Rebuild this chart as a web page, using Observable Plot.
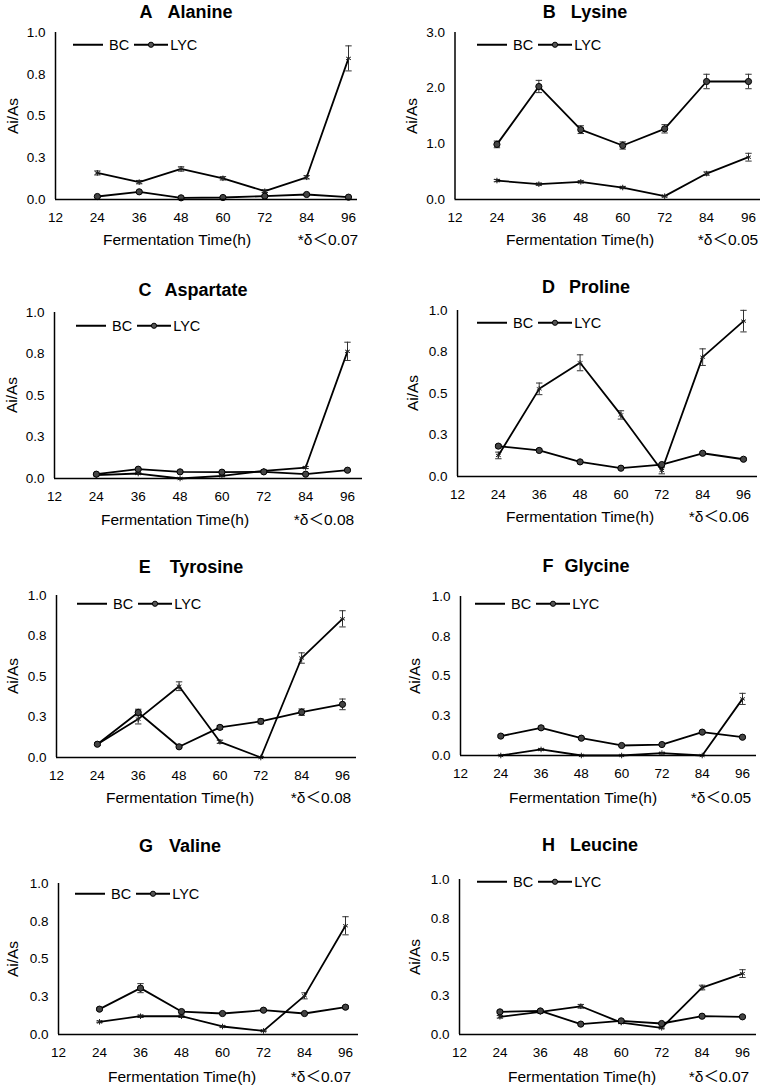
<!DOCTYPE html>
<html>
<head>
<meta charset="utf-8">
<script src="https://cdn.jsdelivr.net/npm/d3@7"></script>
<script src="https://cdn.jsdelivr.net/npm/@observablehq/plot@0.6"></script>
<style>
  body { margin: 0; background: #fff; }
  #page { position: relative; width: 765px; height: 1088px; overflow: hidden; background: #fff;
          font-family: "Liberation Sans", Arial, "Noto Sans CJK SC", sans-serif; color: #000; }
  .abs { position: absolute; white-space: nowrap; line-height: 1; }
  .title { font-weight: bold; font-size: 18px; transform: translate(-50%, -50%); }
  .ylab { font-size: 15.5px; transform: translate(-50%, -50%) rotate(-90deg); }
  .xlab { font-size: 15.5px; transform: translate(-50%, -50%); }
  .note { font-size: 15.5px; transform: translate(-50%, -50%); }
  .legend { font-size: 14.5px; display: flex; align-items: center; transform: translateY(-50%); }
  .legend svg { display: block; }
</style>
</head>
<body>
<div id="page"></div>
<script>
// ---------- data ----------
const hours = [24, 36, 48, 60, 72, 84, 96];
const xTicks = [12, 24, 36, 48, 60, 72, 84, 96];
const letters = ["A", "B", "C", "D", "E", "F", "G", "H"];
const aminoAcids = ["Alanine", "Lysine", "Aspartate", "Proline", "Tyrosine", "Glycine", "Valine", "Leucine"];
const notes = ["*δ＜0.07", "*δ＜0.05", "*δ＜0.08", "*δ＜0.06", "*δ＜0.08", "*δ＜0.05", "*δ＜0.07", "*δ＜0.07"];
const seriesNames = ["BC", "LYC"];
const xTitle = "Fermentation Time(h)";
const yTitle = "Ai/As";

const unitTicks = [0, 0.25, 0.5, 0.75, 1.0];
const unitTickLabels = ["0.0", "0.3", "0.5", "0.8", "1.0"];
const lysineTicks = [0, 1, 2, 3];
const lysineTickLabels = ["0.0", "1.0", "2.0", "3.0"];

const alanineBC     = [0.159, 0.104, 0.183, 0.127, 0.050, 0.133, 0.845];
const alanineBCErr  = [0.012, 0.010, 0.013, 0.010, 0.008, 0.010, 0.075];
const alanineLYC    = [0.018, 0.046, 0.010, 0.012, 0.020, 0.030, 0.014];
const alanineLYCErr = [0.005, 0.006, 0.004, 0.004, 0.005, 0.005, 0.004];

const lysineBC      = [0.34, 0.275, 0.317, 0.215, 0.06, 0.466, 0.76];
const lysineBCErr   = [0.02, 0.02, 0.02, 0.02, 0.015, 0.03, 0.07];
const lysineLYC     = [0.99, 2.03, 1.255, 0.97, 1.27, 2.12, 2.12];
const lysineLYCErr  = [0.06, 0.11, 0.07, 0.065, 0.075, 0.13, 0.13];

const aspartateBC     = [0.020, 0.030, 0.000, 0.016, 0.046, 0.066, 0.766];
const aspartateBCErr  = [0.004, 0.005, 0.003, 0.004, 0.005, 0.006, 0.055];
const aspartateLYC    = [0.026, 0.056, 0.040, 0.038, 0.040, 0.026, 0.050];
const aspartateLYCErr = [0.005, 0.005, 0.005, 0.005, 0.005, 0.005, 0.005];

const prolineBC     = [0.127, 0.528, 0.685, 0.371, 0.036, 0.719, 0.936];
const prolineBCErr  = [0.020, 0.035, 0.048, 0.025, 0.020, 0.050, 0.065];
const prolineLYC    = [0.183, 0.157, 0.088, 0.050, 0.072, 0.140, 0.104];
const prolineLYCErr = [0.010, 0.008, 0.006, 0.005, 0.006, 0.008, 0.007];

const tyrosineBC     = [0.082, 0.237, 0.440, 0.097, 0.000, 0.614, 0.856];
const tyrosineBCErr  = [0.008, 0.030, 0.027, 0.010, 0.005, 0.032, 0.050];
const tyrosineLYC    = [0.082, 0.278, 0.066, 0.186, 0.223, 0.280, 0.328];
const tyrosineLYCErr = [0.008, 0.020, 0.006, 0.012, 0.015, 0.020, 0.033];

const glycineBC     = [0.000, 0.038, 0.000, 0.000, 0.015, 0.000, 0.356];
const glycineBCErr  = [0.003, 0.006, 0.002, 0.002, 0.004, 0.002, 0.035];
const glycineLYC    = [0.122, 0.174, 0.109, 0.063, 0.069, 0.147, 0.115];
const glycineLYCErr = [0.008, 0.010, 0.006, 0.005, 0.005, 0.008, 0.006];

const valineBC     = [0.084, 0.121, 0.121, 0.053, 0.024, 0.256, 0.720];
const valineBCErr  = [0.006, 0.008, 0.008, 0.005, 0.005, 0.020, 0.060];
const valineLYC    = [0.168, 0.307, 0.152, 0.139, 0.161, 0.139, 0.181];
const valineLYCErr = [0.008, 0.030, 0.008, 0.007, 0.008, 0.007, 0.010];

const leucineBC     = [0.114, 0.146, 0.182, 0.077, 0.043, 0.303, 0.393];
const leucineBCErr  = [0.008, 0.008, 0.012, 0.006, 0.006, 0.015, 0.025];
const leucineLYC    = [0.146, 0.152, 0.067, 0.088, 0.071, 0.118, 0.114];
const leucineLYCErr = [0.008, 0.008, 0.005, 0.006, 0.006, 0.006, 0.006];

// ---------- layout (pixels) ----------
const layout = [
  {left: 0,   axisX: 55,    x96: 348, axisEnd: 357, top: 32,  bottom: 199,  titleX: 186, titleY: 12,  gap: 15, yLabelX: 13,  xLabelX: 177, xLabelY: 240,  noteX: 328, legendX: 73,  legendY: 45},
  {left: 380, axisX: 454.5, x96: 748, axisEnd: 760, top: 32,  bottom: 199,  titleX: 585, titleY: 12,  gap: 15, yLabelX: 412, xLabelX: 580, xLabelY: 240,  noteX: 728, legendX: 477, legendY: 45},
  {left: 0,   axisX: 54,    x96: 347, axisEnd: 362, top: 312, bottom: 478,  titleX: 193, titleY: 290, gap: 13, yLabelX: 12,  xLabelX: 175, xLabelY: 520,  noteX: 324, legendX: 76,  legendY: 326},
  {left: 380, axisX: 457,   x96: 743, axisEnd: 757, top: 310, bottom: 476,  titleX: 586, titleY: 287, gap: 14, yLabelX: 413, xLabelX: 580, xLabelY: 517,  noteX: 719, legendX: 477, legendY: 323},
  {left: 0,   axisX: 56,    x96: 342, axisEnd: 356, top: 595, bottom: 757,  titleX: 191, titleY: 567, gap: 19, yLabelX: 13,  xLabelX: 180, xLabelY: 798,  noteX: 321, legendX: 77,  legendY: 604},
  {left: 380, axisX: 460,   x96: 742, axisEnd: 756, top: 596, bottom: 755,  titleX: 586, titleY: 566, gap: 11, yLabelX: 415, xLabelX: 583, xLabelY: 798,  noteX: 721, legendX: 475, legendY: 604},
  {left: 0,   axisX: 58,    x96: 345, axisEnd: 358, top: 883, bottom: 1034, titleX: 180, titleY: 846, gap: 16, yLabelX: 13,  xLabelX: 182, xLabelY: 1077, noteX: 321, legendX: 75,  legendY: 894},
  {left: 380, axisX: 459,   x96: 742, axisEnd: 756, top: 879, bottom: 1034, titleX: 590, titleY: 845, gap: 15, yLabelX: 415, xLabelX: 582, xLabelY: 1077, noteX: 719, legendX: 477, legendY: 882}
];

const panels = [
  {bc: alanineBC,   bcErr: alanineBCErr,   lyc: alanineLYC,   lycErr: alanineLYCErr,   ticks: unitTicks,   tickLabels: unitTickLabels},
  {bc: lysineBC,    bcErr: lysineBCErr,    lyc: lysineLYC,    lycErr: lysineLYCErr,    ticks: lysineTicks, tickLabels: lysineTickLabels},
  {bc: aspartateBC, bcErr: aspartateBCErr, lyc: aspartateLYC, lycErr: aspartateLYCErr, ticks: unitTicks,   tickLabels: unitTickLabels},
  {bc: prolineBC,   bcErr: prolineBCErr,   lyc: prolineLYC,   lycErr: prolineLYCErr,   ticks: unitTicks,   tickLabels: unitTickLabels},
  {bc: tyrosineBC,  bcErr: tyrosineBCErr,  lyc: tyrosineLYC,  lycErr: tyrosineLYCErr,  ticks: unitTicks,   tickLabels: unitTickLabels},
  {bc: glycineBC,   bcErr: glycineBCErr,   lyc: glycineLYC,   lycErr: glycineLYCErr,   ticks: unitTicks,   tickLabels: unitTickLabels},
  {bc: valineBC,    bcErr: valineBCErr,    lyc: valineLYC,    lycErr: valineLYCErr,    ticks: unitTicks,   tickLabels: unitTickLabels},
  {bc: leucineBC,   bcErr: leucineBCErr,   lyc: leucineLYC,   lycErr: leucineLYCErr,   ticks: unitTicks,   tickLabels: unitTickLabels}
];

// horizontal cap symbol for error bars
const capSymbol = {
  draw(context, size) {
    const r = Math.sqrt(size / Math.PI);
    context.moveTo(-r, 0);
    context.lineTo(r, 0);
  }
};

const page = document.getElementById("page");
const FONT = '"Liberation Sans", Arial, "Noto Sans CJK SC", sans-serif';

function addDiv(cls, text, x, y) {
  const d = document.createElement("div");
  d.className = "abs " + cls;
  d.style.left = x + "px";
  d.style.top = y + "px";
  if (text != null) d.textContent = text;
  page.appendChild(d);
  return d;
}

function rowsFor(values, errs) {
  return hours.map((h, i) => ({h, v: values[i], lo: Math.max(0, values[i] - errs[i]), hi: values[i] + errs[i]}));
}

panels.forEach((p, i) => {
  const L = layout[i];
  const svgTop = L.top - 15;
  const width = 380;
  const marginTop = 15, marginBottom = 32;
  const height = (L.bottom - L.top) + marginTop + marginBottom;
  const xMax = 12 + (L.axisEnd - L.axisX) / (L.x96 - L.axisX) * 84;
  const yMax = p.ticks[p.ticks.length - 1];
  const labelMap = new Map(p.ticks.map((t, k) => [t, p.tickLabels[k]]));

  const bcRows = rowsFor(p.bc, p.bcErr);
  const lycRows = rowsFor(p.lyc, p.lycErr);
  const caps = [...bcRows, ...lycRows].flatMap(d => [{h: d.h, v: d.lo}, {h: d.h, v: d.hi}]);
  const bars = [...bcRows, ...lycRows];

  const svg = Plot.plot({
    width, height,
    marginLeft: L.axisX - L.left,
    marginRight: L.left + width - L.axisEnd,
    marginTop, marginBottom,
    style: {fontFamily: FONT, fontSize: "13.5px", background: "transparent", overflow: "visible", color: "#000"},
    x: {type: "linear", domain: [12, xMax], axis: null},
    y: {type: "linear", domain: [0, yMax], axis: null},
    marks: [
      Plot.axisX(xTicks, {tickSize: 0, tickPadding: 13, tickFormat: d => String(d), label: null, fontSize: 13.5}),
      Plot.axisY(p.ticks, {tickSize: 0, tickPadding: 10, tickFormat: d => labelMap.get(d), label: null, fontSize: 13.5}),
      Plot.ruleX(bars, {x: "h", y1: "lo", y2: "hi", stroke: "#333", strokeWidth: 1}),
      Plot.dot(caps, {x: "h", y: "v", symbol: capSymbol, r: 3.2, stroke: "#333", strokeWidth: 1}),
      Plot.line(bcRows, {x: "h", y: "v", stroke: "#000", strokeWidth: 1.8}),
      Plot.line(lycRows, {x: "h", y: "v", stroke: "#000", strokeWidth: 1.8}),
      Plot.dot(bcRows, {x: "h", y: "v", symbol: "asterisk", r: 2.6, stroke: "#222", strokeWidth: 1}),
      Plot.dot(lycRows, {x: "h", y: "v", r: 3.1, fill: "#444", stroke: "#000", strokeWidth: 1}),
      Plot.ruleX([12], {stroke: "#000", strokeWidth: 1.5}),
      Plot.ruleY([0], {stroke: "#000", strokeWidth: 1.5})
    ]
  });
  svg.style.position = "absolute";
  svg.style.left = L.left + "px";
  svg.style.top = svgTop + "px";
  page.appendChild(svg);

  // title
  const t = addDiv("title", null, L.titleX, L.titleY);
  const s1 = document.createElement("span"); s1.textContent = letters[i];
  const s2 = document.createElement("span"); s2.textContent = aminoAcids[i]; s2.style.marginLeft = L.gap + "px";
  t.appendChild(s1); t.appendChild(s2);

  // axis titles and note
  addDiv("ylab", yTitle, L.yLabelX, (L.top + L.bottom) / 2);
  addDiv("xlab", xTitle, L.xLabelX, L.xLabelY);
  addDiv("note", notes[i], L.noteX, L.xLabelY);

  // legend
  const lg = addDiv("legend", null, L.legendX, L.legendY);
  const ns = "http://www.w3.org/2000/svg";
  const mk = (w, withDot) => {
    const s = document.createElementNS(ns, "svg");
    s.setAttribute("width", w); s.setAttribute("height", 10);
    const ln = document.createElementNS(ns, "line");
    ln.setAttribute("x1", 0); ln.setAttribute("x2", w); ln.setAttribute("y1", 5); ln.setAttribute("y2", 5);
    ln.setAttribute("stroke", "#000"); ln.setAttribute("stroke-width", 1.8);
    s.appendChild(ln);
    if (withDot) {
      const c = document.createElementNS(ns, "circle");
      c.setAttribute("cx", w / 2); c.setAttribute("cy", 5); c.setAttribute("r", 2.6);
      c.setAttribute("fill", "#555"); c.setAttribute("stroke", "#000"); c.setAttribute("stroke-width", 1);
      s.appendChild(c);
    }
    return s;
  };
  lg.appendChild(mk(30, false));
  const b = document.createElement("span"); b.textContent = seriesNames[0]; b.style.marginLeft = "6px"; b.style.marginRight = "5px";
  lg.appendChild(b);
  lg.appendChild(mk(34, true));
  const l2 = document.createElement("span"); l2.textContent = seriesNames[1]; l2.style.marginLeft = "2px";
  lg.appendChild(l2);
});
</script>
</body>
</html>
